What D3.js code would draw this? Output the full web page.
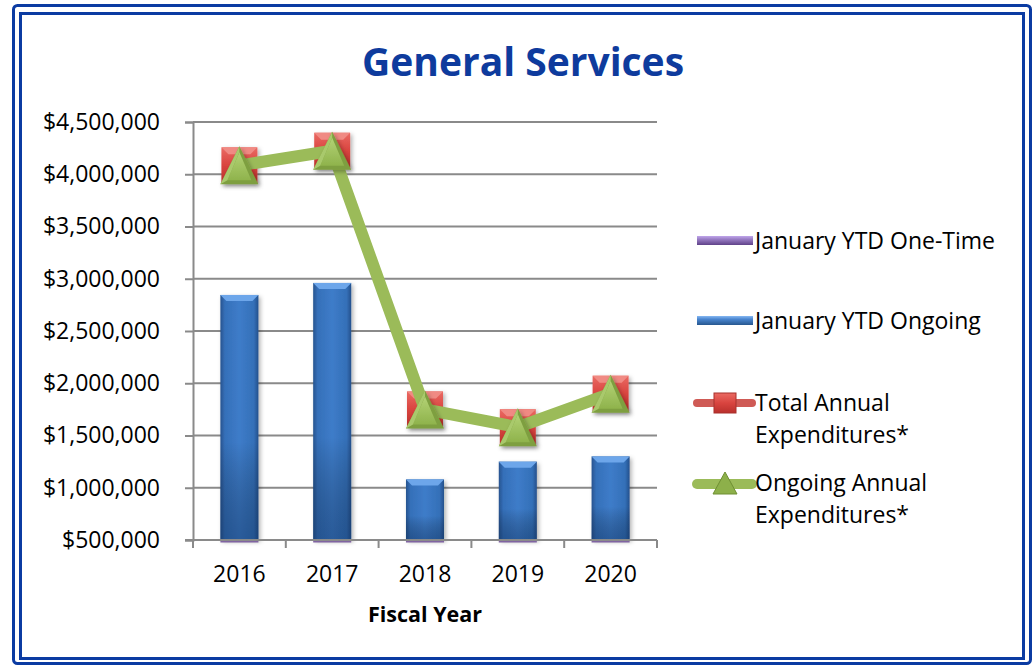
<!DOCTYPE html>
<html>
<head>
<meta charset="utf-8">
<script src="https://cdn.jsdelivr.net/npm/d3@7"></script>
<style>
  html, body { margin: 0; padding: 0; background: #ffffff; }
  svg { display: block; font-family: "Open Sans", "Noto Sans", sans-serif; }
</style>
</head>
<body>
<svg id="chart" width="1033" height="665"></svg>
<script>
// ---- data ----
const years = ["2016", "2017", "2018", "2019", "2020"];
const oneTimeYTD = [0, 0, 0, 0, 0];
const ongoingYTD = [2845000, 2960000, 1080000, 1250000, 1300000];
const totalAnnual = [4085000, 4225000, 1750000, 1580000, 1900000];
const ongoingAnnual = [4085000, 4225000, 1750000, 1580000, 1900000];
const yTicks = [500000, 1000000, 1500000, 2000000, 2500000, 3000000, 3500000, 4000000, 4500000];
const seriesNames = ["January YTD One-Time", "January YTD Ongoing", "Total Annual Expenditures*", "Ongoing Annual Expenditures*"];
const titleText = "General Services";
const xTitle = "Fiscal Year";

const svg = d3.select("#chart");
const plot = { left: 193, right: 657, top: 122, bottom: 540 };

// ---- defs ----
const defs = svg.append("defs");
const barGrad = defs.append("linearGradient").attr("id", "barGrad").attr("x1", 0).attr("x2", 1).attr("y1", 0).attr("y2", 0);
[[0, "#27538f"], [0.12, "#3570b9"], [0.5, "#3e7cc9"], [0.88, "#3470b8"], [1, "#25508c"]].forEach(s =>
  barGrad.append("stop").attr("offset", s[0]).attr("stop-color", s[1]));
const barV = defs.append("linearGradient").attr("id", "barV").attr("x1", 0).attr("x2", 0).attr("y1", 0).attr("y2", 1);
[[0, "#000", 0], [0.6, "#000", 0], [1, "#0b2a55", 0.4]].forEach(s =>
  barV.append("stop").attr("offset", s[0]).attr("stop-color", s[1]).attr("stop-opacity", s[2]));
const redGrad = defs.append("linearGradient").attr("id", "redGrad").attr("x1", 0).attr("x2", 0).attr("y1", 0).attr("y2", 1);
[[0, "#ea6a63"], [0.5, "#d9443f"], [1, "#b9302c"]].forEach(s =>
  redGrad.append("stop").attr("offset", s[0]).attr("stop-color", s[1]));
const greenGrad = defs.append("linearGradient").attr("id", "greenGrad").attr("x1", 0).attr("x2", 0).attr("y1", 0).attr("y2", 1);
[[0, "#b3d275"], [1, "#8fb34c"]].forEach(s =>
  greenGrad.append("stop").attr("offset", s[0]).attr("stop-color", s[1]));
const purpleGrad = defs.append("linearGradient").attr("id", "purpleGrad").attr("x1", 0).attr("x2", 0).attr("y1", 0).attr("y2", 1);
[[0, "#c0a6ea"], [0.35, "#9a7ec6"], [1, "#5f4288"]].forEach(s =>
  purpleGrad.append("stop").attr("offset", s[0]).attr("stop-color", s[1]));
const blueLeg = defs.append("linearGradient").attr("id", "blueLeg").attr("x1", 0).attr("x2", 0).attr("y1", 0).attr("y2", 1);
[[0, "#86b8f2"], [0.35, "#4a86d0"], [1, "#27578f"]].forEach(s =>
  blueLeg.append("stop").attr("offset", s[0]).attr("stop-color", s[1]));
const shadow = defs.append("filter").attr("id", "shadow").attr("x", "-30%").attr("y", "-30%").attr("width", "160%").attr("height", "160%");
shadow.append("feDropShadow").attr("dx", 2).attr("dy", 2).attr("stdDeviation", 2).attr("flood-color", "#000").attr("flood-opacity", 0.3);

// ---- frame ----
svg.append("rect").attr("x", 13.5).attr("y", 5.5).attr("width", 1017).attr("height", 658).attr("rx", 4)
  .attr("fill", "#fff").attr("stroke", "#0b3ba2").attr("stroke-width", 3);
svg.append("rect").attr("x", 20.5).attr("y", 13.5).attr("width", 1003).attr("height", 645)
  .attr("fill", "#fff").attr("stroke", "#0b3ba2").attr("stroke-width", 3);

// ---- title ----
svg.append("text").attr("x", 523).attr("y", 76).attr("text-anchor", "middle")
  .attr("font-size", 39).attr("font-weight", 700).attr("fill", "#0e3b9d").text(titleText);

// ---- scales ----
const x = d3.scaleBand().domain(years).range([plot.left, plot.right]).padding(0);
const y = d3.scaleLinear().domain([500000, 4500000]).range([plot.bottom, plot.top]);
const barW = x.bandwidth() * 0.41;
const cx = d => x(d) + x.bandwidth() / 2;

// ---- gridlines ----
svg.append("g").selectAll("line").data(yTicks).join("line")
  .attr("x1", plot.left).attr("x2", plot.right)
  .attr("y1", d => y(d)).attr("y2", d => y(d))
  .attr("stroke", "#8a8a8a").attr("stroke-width", 2);

// ---- y axis ----
const yAxis = svg.append("g").attr("transform", `translate(${plot.left},0)`)
  .call(d3.axisLeft(y).tickValues(yTicks).tickSize(8).tickPadding(25)
    .tickFormat(d => "$" + d3.format(",")(d)));
yAxis.select(".domain").attr("stroke", "#8a8a8a").attr("stroke-width", 2);
yAxis.selectAll(".tick line").attr("stroke", "#8a8a8a").attr("stroke-width", 2);
yAxis.selectAll("text").attr("font-size", 23).attr("fill", "#000").attr("font-family", "'Open Sans', sans-serif");

// ---- bars ----
const barData = years.map((yr, i) => ({ yr, v: ongoingYTD[i], o: oneTimeYTD[i] }));
const bars = svg.append("g");
bars.selectAll("rect.bar").data(barData).join("rect").attr("class", "bar")
  .attr("x", d => cx(d.yr) - barW / 2).attr("width", barW)
  .attr("y", d => y(d.v)).attr("height", d => y.range()[0] - y(d.v))
  .attr("fill", "url(#barGrad)").attr("filter", "url(#shadow)");
bars.selectAll("rect.shade").data(barData).join("rect").attr("class", "shade")
  .attr("x", d => cx(d.yr) - barW / 2).attr("width", barW)
  .attr("y", d => y(d.v)).attr("height", d => y.range()[0] - y(d.v))
  .attr("fill", "url(#barV)");
bars.selectAll("path.bevel").data(barData).join("path").attr("class", "bevel")
  .attr("d", d => {
    const l = cx(d.yr) - barW / 2, r = cx(d.yr) + barW / 2, t = y(d.v), b = 6;
    return `M${l},${t}L${r},${t}L${r - b},${t + b}L${l + b},${t + b}Z`;
  })
  .attr("fill", "#6da6ea");
// one-time (near zero) strip
bars.selectAll("rect.one").data(barData).join("rect").attr("class", "one")
  .attr("x", d => cx(d.yr) - barW / 2).attr("width", barW)
  .attr("y", y.range()[0]).attr("height", d => Math.max(2.5, y(500000) - y(500000 + d.o)))
  .attr("fill", "#8064a2");

// ---- x axis ----
const xAxisG = svg.append("g").attr("transform", `translate(0,${plot.bottom})`);
xAxisG.append("line").attr("x1", plot.left - 8).attr("x2", plot.right).attr("y1", 0).attr("y2", 0)
  .attr("stroke", "#8a8a8a").attr("stroke-width", 2);
const edges = years.map(d => x(d)).concat([x(years[years.length - 1]) + x.bandwidth()]);
xAxisG.selectAll("line.tk").data(edges).join("line").attr("class", "tk")
  .attr("x1", d => d).attr("x2", d => d).attr("y1", 0).attr("y2", 8)
  .attr("stroke", "#8a8a8a").attr("stroke-width", 2);
xAxisG.selectAll("text").data(years).join("text")
  .attr("x", d => cx(d)).attr("y", 42).attr("text-anchor", "middle")
  .attr("font-size", 23).attr("fill", "#000").text(d => d);
svg.append("text").attr("x", cx(years[2])).attr("y", 622).attr("text-anchor", "middle")
  .attr("font-size", 21.5).attr("font-weight", 700).attr("fill", "#000").text(xTitle);

// ---- lines ----
const lineGen = d3.line().x(d => cx(d.yr)).y(d => y(d.v));
const totalData = years.map((yr, i) => ({ yr, v: totalAnnual[i] }));
const ongData = years.map((yr, i) => ({ yr, v: ongoingAnnual[i] }));
const mS = 36;

svg.append("path").datum(totalData).attr("d", lineGen).attr("fill", "none")
  .attr("stroke", "#c9504c").attr("stroke-width", 10).attr("stroke-linejoin", "round");
const sq = svg.append("g").selectAll("g").data(totalData).join("g")
  .attr("transform", d => `translate(${cx(d.yr)},${y(d.v)})`).attr("filter", "url(#shadow)");
sq.append("rect").attr("x", -mS / 2).attr("y", -mS / 2).attr("width", mS).attr("height", mS).attr("fill", "url(#redGrad)");
sq.append("path").attr("d", `M${-mS / 2},${-mS / 2}L${mS / 2},${-mS / 2}L${mS / 2 - 7},${-mS / 2 + 7}L${-mS / 2 + 7},${-mS / 2 + 7}Z`).attr("fill", "#f08a83");
sq.append("path").attr("d", `M${-mS / 2},${mS / 2}L${mS / 2},${mS / 2}L${mS / 2 - 7},${mS / 2 - 7}L${-mS / 2 + 7},${mS / 2 - 7}Z`).attr("fill", "#a82724");

svg.append("path").datum(ongData).attr("d", lineGen).attr("fill", "none")
  .attr("stroke", "#9bbb59").attr("stroke-width", 12).attr("stroke-linejoin", "round");
const tri = svg.append("g").selectAll("g").data(ongData).join("g")
  .attr("transform", d => `translate(${cx(d.yr)},${y(d.v)})`).attr("filter", "url(#shadow)");
const h = mS + 2, hw = mS / 2 + 1;
tri.append("path").attr("d", `M0,${-h / 2}L${hw},${h / 2}L${-hw},${h / 2}Z`).attr("fill", "#7e9f3f");
tri.append("path").attr("d", `M0,${-h / 2 + 6}L${hw - 7},${h / 2 - 4}L${-hw + 7},${h / 2 - 4}Z`).attr("fill", "url(#greenGrad)");
tri.append("path").attr("d", `M0,${-h / 2}L${-hw},${h / 2}L${-hw + 7},${h / 2 - 4}L0,${-h / 2 + 6}Z`).attr("fill", "#a9c96c");

// ---- legend ----
const leg = svg.append("g");
const lx = 697, lw = 56, tx = 755, fs = 23;
leg.append("rect").attr("x", lx).attr("y", 236).attr("width", lw).attr("height", 9).attr("fill", "url(#purpleGrad)");
leg.append("text").attr("x", tx).attr("y", 249).attr("font-size", fs).attr("fill", "#000").text(seriesNames[0]);
leg.append("rect").attr("x", lx).attr("y", 316).attr("width", lw).attr("height", 9).attr("fill", "url(#blueLeg)");
leg.append("text").attr("x", tx).attr("y", 329).attr("font-size", fs).attr("fill", "#000").text(seriesNames[1]);
leg.append("line").attr("x1", 697).attr("x2", 752).attr("y1", 403).attr("y2", 403)
  .attr("stroke", "#cf5a55").attr("stroke-width", 8).attr("stroke-linecap", "round");
leg.append("rect").attr("x", 714).attr("y", 393).attr("width", 22).attr("height", 20).attr("fill", "url(#redGrad)").attr("stroke", "#a8302c").attr("stroke-width", 1);
const t3 = leg.append("text").attr("x", tx).attr("y", 411).attr("font-size", fs).attr("fill", "#000");
t3.append("tspan").attr("x", tx).text("Total Annual");
t3.append("tspan").attr("x", tx).attr("dy", 32).text("Expenditures*");
leg.append("line").attr("x1", 697).attr("x2", 752).attr("y1", 484).attr("y2", 484)
  .attr("stroke", "#9bbb59").attr("stroke-width", 10).attr("stroke-linecap", "round");
leg.append("path").attr("d", "M725,472L737,494L713,494Z").attr("fill", "#8db04a").attr("stroke", "#6f8f33").attr("stroke-width", 1);
const t4 = leg.append("text").attr("x", tx).attr("y", 491).attr("font-size", fs).attr("fill", "#000");
t4.append("tspan").attr("x", tx).text("Ongoing Annual");
t4.append("tspan").attr("x", tx).attr("dy", 32).text("Expenditures*");
</script>
</body>
</html>
